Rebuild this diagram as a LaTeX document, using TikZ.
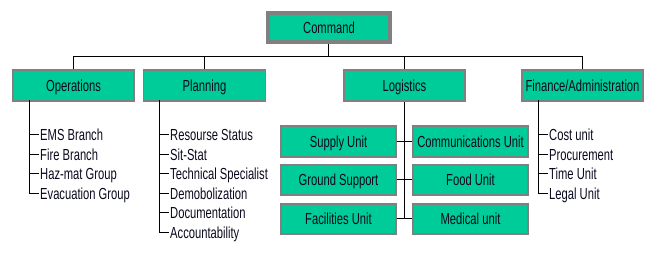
\documentclass[tikz,border=0pt]{standalone}
\usepackage{fontspec}
\setmainfont[FakeStretch=0.7]{Liberation Sans}
\definecolor{boxgreen}{RGB}{0,204,153}
\definecolor{boxgray}{RGB}{128,128,128}
\definecolor{txt}{RGB}{10,10,30}
\begin{document}
\begin{tikzpicture}[x=1pt,y=-1pt,
  every node/.style={font=\fontsize{16}{19}\selectfont, text=txt, text height=11.5pt, text depth=0pt},
  box/.style={draw=boxgray, line width=1.3pt, fill=boxgreen, minimum height=31pt, inner sep=0pt},
  mainbox/.style={box, minimum width=121pt},
  subbox/.style={box, minimum width=115pt},
  cmdbox/.style={draw=boxgray, line width=3.5pt, fill=boxgreen, minimum width=122pt, minimum height=29pt, inner sep=0pt},
  item/.style={anchor=west, inner sep=1pt},
  conn/.style={draw=black, line width=1pt}
]
\useasboundingbox (0,0) rectangle (661,253);

% top
\node[cmdbox] (cmd) at (329,27.5) {Command};
\node[mainbox] (ops) at (73.5,85.5) {Operations};
\node[mainbox, minimum width=122pt] (plan) at (204.5,85.5) {Planning};
\node[mainbox] (log) at (404.5,85.5) {Logistics};
\node[mainbox] (fin) at (582.5,85.5) {Finance/Administration};

\coordinate (bus) at (328,57);
\draw[conn] (cmd.south -| bus) -- (bus);
\draw[conn] (ops.north) |- (bus);
\draw[conn] (plan.north) |- (bus);
\draw[conn] (log.north) |- (bus);
\draw[conn] (fin.north) |- (bus);

% Operations list
\coordinate (opst) at (29,100.5);
\node[item] (o1) at (39,135) {EMS Branch};
\node[item] (o2) at (39,154.5) {Fire Branch};
\node[item] (o3) at (39,174) {Haz-mat Group};
\node[item] (o4) at (39,193.5) {Evacuation Group};
\foreach \n in {o1,o2,o3,o4} \draw[conn] (opst) |- (\n.west);

% Planning list
\coordinate (plant) at (159,100.5);
\node[item] (p1) at (169,135) {Resourse Status};
\node[item] (p2) at (169,154.5) {Sit-Stat};
\node[item] (p3) at (169,174) {Technical Specialist};
\node[item] (p4) at (169,193.5) {Demobolization};
\node[item] (p5) at (169,213) {Documentation};
\node[item] (p6) at (169,232.5) {Accountability};
\foreach \n in {p1,p2,p3,p4,p5,p6} \draw[conn] (plant) |- (\n.west);

% Finance list
\coordinate (fint) at (538,100.5);
\node[item] (f1) at (548,135) {Cost unit};
\node[item] (f2) at (548,154.5) {Procurement};
\node[item] (f3) at (548,174) {Time Unit};
\node[item] (f4) at (548,193.5) {Legal Unit};
\foreach \n in {f1,f2,f3,f4} \draw[conn] (fint) |- (\n.west);

% Logistics units
\node[subbox] (sup) at (338.5,141.5) {Supply Unit};
\node[subbox] (com) at (470.5,141.5) {Communications Unit};
\node[subbox, minimum height=30pt] (grd) at (338.5,180) {Ground Support};
\node[subbox, minimum height=30pt] (food) at (470.5,180) {Food Unit};
\node[subbox, minimum height=30pt] (fac) at (338.5,219) {Facilities Unit};
\node[subbox, minimum height=30pt] (med) at (470.5,219) {Medical unit};

\coordinate (logend) at (404,219);
\draw[conn] (log.south -| logend) -- (logend);
\draw[conn] (sup.east) -- (com.west);
\draw[conn] (grd.east) -- (food.west);
\draw[conn] (fac.east) -- (med.west);
\end{tikzpicture}
\end{document}
